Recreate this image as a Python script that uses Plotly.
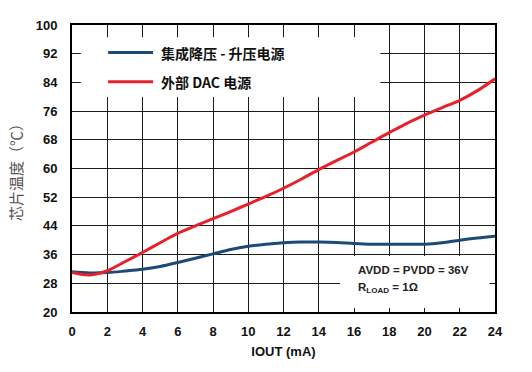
import plotly.graph_objects as go

# ---- data ----
blue_x = [0, 1, 2, 3, 4, 5, 6, 7, 8, 9, 10, 11, 12, 13, 14, 15, 16, 17, 18, 19, 20, 21, 22, 23, 24]
blue_y = [31.2, 30.9, 31.0, 31.4, 31.9, 32.7, 33.8, 35.0, 36.2, 37.4, 38.3, 38.9, 39.3, 39.5, 39.5,
          39.4, 39.1, 38.9, 38.9, 38.9, 38.9, 39.3, 40.0, 40.6, 41.1]
red_x = [0, 0.5, 1, 1.5, 2, 3, 4, 5, 6, 7, 8, 9, 10, 11, 12, 13, 14, 15, 16, 17, 18, 19, 20, 21, 22, 23, 24]
red_y = [31.0, 30.5, 30.3, 30.7, 31.5, 34.0, 36.6, 39.3, 41.9, 44.0, 46.0, 48.0, 50.1, 52.2, 54.5,
         57.0, 59.7, 62.2, 64.6, 67.3, 70.0, 72.6, 74.9, 77.0, 79.0, 81.7, 85.0]
series_names = ["集成降压 - 升压电源", "外部 DAC 电源"]
x_ticks = list(range(0, 25, 2))
y_ticks = list(range(20, 101, 8))
x_title = "IOUT (mA)"
y_title = "芯片温度（℃）"
note_lines = ["AVDD = PVDD = 36V", "R<sub>LOAD</sub> = 1Ω"]

BLUE = "#1c4a78"
RED = "#e8202a"
TICKFONT = dict(family="Arial, Liberation Sans, sans-serif", size=13, color="#111")

fig = go.Figure()
fig.add_trace(go.Scatter(x=blue_x, y=blue_y, mode="lines", line=dict(color=BLUE, width=3, shape="spline"),
                         name=series_names[0], showlegend=False))
fig.add_trace(go.Scatter(x=red_x, y=red_y, mode="lines", line=dict(color=RED, width=3, shape="spline"),
                         name=series_names[1], showlegend=False))

# white boxes behind legend and note
fig.add_shape(type="rect", xref="x", yref="y", x0=0.5, x1=17.5, y0=79.9, y1=96.6,
              fillcolor="white", line=dict(width=0), layer="above")
fig.add_shape(type="rect", xref="x", yref="y", x0=15.2, x1=23.7, y0=21.1, y1=35.6,
              fillcolor="white", line=dict(width=0), layer="above")

# manual legend
for yv, col, name in [(92.3, BLUE, series_names[0]), (84.2, RED, series_names[1])]:
    fig.add_shape(type="line", xref="x", yref="y", x0=2.05, x1=4.6, y0=yv, y1=yv,
                  line=dict(color=col, width=3), layer="above")
    fig.add_annotation(x=4.95, y=yv, xref="x", yref="y", text="<b>" + name + "</b>", showarrow=False,
                       xanchor="left", yanchor="middle",
                       font=dict(family="Noto Sans CJK SC", size=14, color="#111"))

# note
fig.add_annotation(x=16.1, y=31.8, xref="x", yref="y", text="<b>" + note_lines[0] + "</b>", showarrow=False,
                   xanchor="left", yanchor="middle",
                   font=dict(family="Arial, Liberation Sans, sans-serif", size=11.5, color="#222"))
fig.add_annotation(x=16.1, y=26.8, xref="x", yref="y", text="<b>" + note_lines[1] + "</b>", showarrow=False,
                   xanchor="left", yanchor="middle",
                   font=dict(family="Arial, Liberation Sans, sans-serif", size=11.5, color="#222"))

fig.update_layout(
    width=532, height=372,
    margin=dict(l=72, r=37, t=25, b=60),
    paper_bgcolor="white", plot_bgcolor="white",
    showlegend=False,
)
fig.update_xaxes(range=[0, 24], tickvals=x_ticks, ticktext=[f"<b>{v}</b>" for v in x_ticks],
                 tickfont=TICKFONT, showgrid=True, gridcolor="#1a1a1a", gridwidth=1,
                 showline=True, linecolor="black", linewidth=2, mirror=True, zeroline=False,
                 ticks="", ticklabelstandoff=6,
                 title=dict(text="<b>" + x_title + "</b>", font=dict(family="Arial, Liberation Sans, sans-serif",
                                                                    size=13, color="#111"), standoff=9))
fig.update_yaxes(range=[20, 100], tickvals=y_ticks, ticktext=[f"<b>{v}</b>" for v in y_ticks],
                 tickfont=TICKFONT, showgrid=True, gridcolor="#1a1a1a", gridwidth=1,
                 showline=True, linecolor="black", linewidth=2, mirror=True, zeroline=False,
                 ticks="", ticklabelstandoff=10,
                 title=dict(text=y_title, font=dict(family="Noto Sans CJK SC", size=15, color="#555"),
                            standoff=9))

fig.write_html("out.html")
